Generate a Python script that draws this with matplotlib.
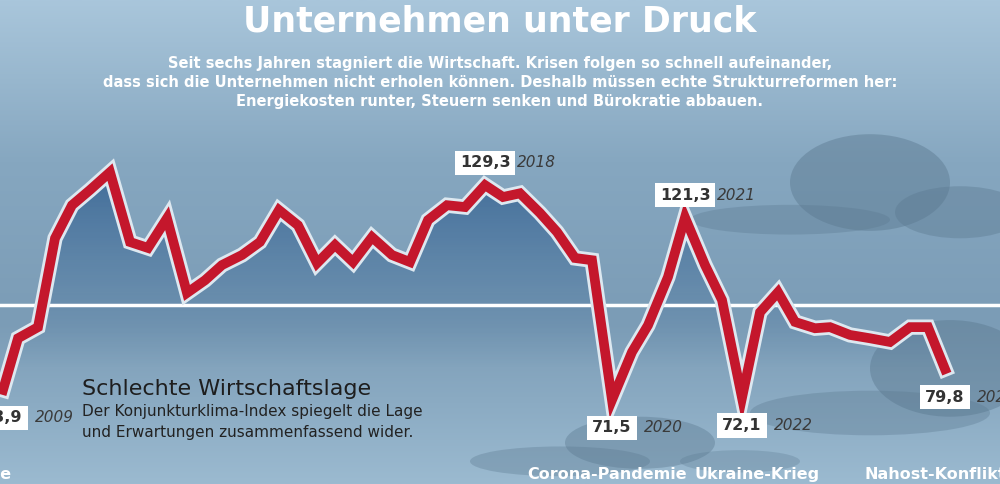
import matplotlib.pyplot as plt
import matplotlib.patheffects as pe
from matplotlib.patches import Ellipse, Polygon
from matplotlib.colors import LinearSegmentedColormap
import numpy as np

# ifo-Geschäftsklima (Index)
x = [3, 18, 38, 55, 72, 90, 110, 130, 148, 167, 187, 205, 222, 242, 260, 279, 298, 317,
     335, 353, 372, 392, 410, 428, 447, 465, 485, 503, 520, 540, 557, 575, 592, 612, 632,
     648, 668, 685, 705, 722, 742, 760, 778, 795, 815, 830, 850, 870, 890, 910, 928, 945]
werte = [74.2, 88.1, 91.1, 115.0, 123.9, 128.0, 132.8, 114.0, 112.4, 120.4, 100.3, 103.7,
         107.8, 110.5, 114.0, 122.6, 118.5, 108.3, 113.2, 108.6, 115.3, 110.5, 108.6, 119.9,
         123.9, 123.4, 129.3, 126.1, 127.1, 121.8, 116.7, 109.7, 109.1, 71.5, 84.4, 91.6,
         104.6, 120.6, 107.8, 98.4, 72.1, 95.1, 100.5, 92.5, 90.8, 91.1, 89.0, 88.1, 87.1,
         91.1, 91.1, 79.8]
marken = [(3, "73,9", "2009"), (485, "129,3", "2018"), (612, "71,5", "2020"),
          (685, "121,3", "2021"), (742, "72,1", "2022"), (945, "79,8", "2024")]
ereignisse = [(-40, "Finanzkrise"), (607, "Corona-Pandemie"), (757, "Ukraine-Krieg"), (935, "Nahost-Konflikt")]

fig = plt.figure(figsize=(10, 4.84), dpi=100)
ax = fig.add_axes([0, 0, 1, 1])
ax.set_xlim(0, 1000)
ax.set_ylim(48.9, 179.1)
ax.axis("off")

# Hintergrund-Verlauf (oben hell, Mitte dunkler, unten hell)
bg = LinearSegmentedColormap.from_list("bg", ["#a9c6db", "#86a7c0", "#7b9cb6", "#9bbad0"])
ax.imshow(np.linspace(0, 1, 256).reshape(-1, 1), extent=[0, 1000, 48.9, 179.1],
          cmap=bg.reversed(), aspect="auto", origin="lower", zorder=0)

# Wolken (y in Datenwerten, ~3,7 px pro Einheit)
wolke = "#5b7990"
for cx, cy, w, h, a in [(870, 130, 160, 26, 0.45), (960, 122, 130, 14, 0.4), (790, 120, 200, 8, 0.35),
                        (950, 80, 160, 26, 0.45), (870, 68, 240, 12, 0.35),
                        (640, 60, 150, 14, 0.4), (560, 55, 180, 8, 0.35), (740, 55, 120, 6, 0.3)]:
    ax.add_patch(Ellipse((cx, cy), w, h, color=wolke, alpha=a, lw=0, zorder=1))

# Fläche unter der Linie mit Verlauf
basis = 48.9
poly = Polygon(list(zip(x, werte)) + [(x[-1], basis), (x[0], basis)], closed=True,
               facecolor="none", edgecolor="none")
ax.add_patch(poly)
fill_cmap = LinearSegmentedColormap.from_list("fill", [(0.22, 0.4, 0.58, 0.0), (0.2, 0.38, 0.57, 0.85)])
im = ax.imshow(np.linspace(0, 1, 256).reshape(-1, 1), extent=[0, 1000, 80, 135],
               cmap=fill_cmap, aspect="auto", origin="lower", zorder=2)
im.set_clip_path(poly)

ax.axhline(97.0, color="white", lw=2.5, zorder=3)

ax.plot(x, werte, color="#c4172c", lw=7, solid_joinstyle="miter", zorder=5,
        path_effects=[pe.Stroke(linewidth=11, foreground="#dde8f0"), pe.Normal()])

for xm, wert, jahr in marken:
    v = werte[x.index(xm)]
    oben = v > 110
    ty = v + 6 if oben else v - 7.5
    ax.text(xm, ty, wert, ha="center", va="center", fontsize=11.5, fontweight="bold",
            color="#333333", zorder=7,
            bbox=dict(boxstyle="square,pad=0.3", fc="white", ec="none"))
    ax.text(xm + 32, ty, jahr, ha="left", va="center", fontsize=11, style="italic",
            color="#3a3a3a", zorder=7)

for xe, name in ereignisse:
    ax.text(xe, 51.5, name, ha="center", va="center", fontsize=11.5, fontweight="bold",
            color="white", zorder=7)

ax.text(82, 74.5, "Schlechte Wirtschaftslage", fontsize=16, color="#1e1e1e", va="center", zorder=7)
ax.text(82, 68.5, "Der Konjunkturklima-Index spiegelt die Lage", fontsize=11, color="#222222",
        va="center", zorder=7)
ax.text(82, 62.8, "und Erwartungen zusammenfassend wider.", fontsize=11, color="#222222",
        va="center", zorder=7)

fig.text(0.5, 0.955, "Unternehmen unter Druck", ha="center", va="center", fontsize=25,
         fontweight="heavy", color="white")
fig.text(0.5, 0.83, "Seit sechs Jahren stagniert die Wirtschaft. Krisen folgen so schnell aufeinander,\n"
         "dass sich die Unternehmen nicht erholen können. Deshalb müssen echte Strukturreformen her:\n"
         "Energiekosten runter, Steuern senken und Bürokratie abbauen.",
         ha="center", va="center", fontsize=10.5, fontweight="bold", color="white", linespacing=1.35)

fig.savefig("out.png", dpi=100)
